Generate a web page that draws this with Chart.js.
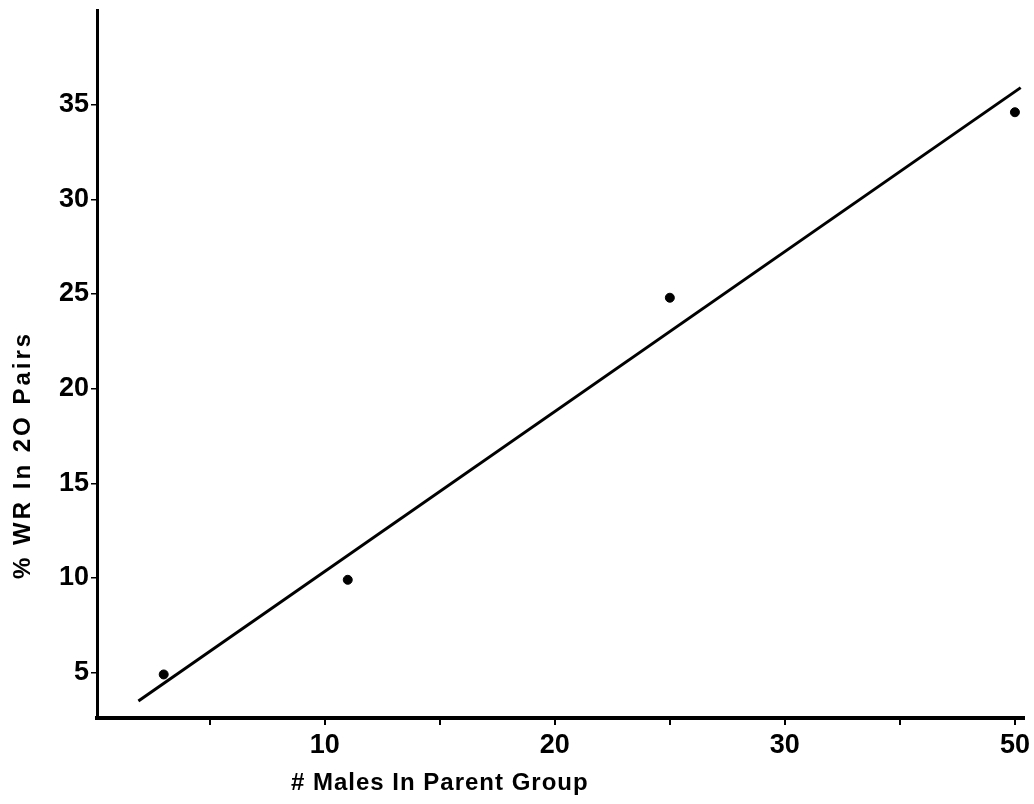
<!DOCTYPE html>
<html>
<head>
<meta charset="utf-8">
<script src="https://cdn.jsdelivr.net/npm/chart.js@4.4.0/dist/chart.umd.min.js"></script>
<style>
  html, body { margin: 0; padding: 0; background: #fff; }
  #wrap { width: 1034px; height: 804px; }
</style>
</head>
<body>
<div id="wrap"><canvas id="plot"></canvas></div>
<script>
// data
const malesInGroup = [3, 11, 25, 40];      // axis position (last tick is labelled 50)
const pctWR = [4.9, 9.9, 24.8, 34.6];
const fitX = [1.9, 40.25];
const fitY = [3.5, 35.9];

const xTickValues = [5, 10, 15, 20, 25, 30, 35, 40];
const xTickLabels = ['', '10', '', '20', '', '30', '', '50'];
const yTickValues = [5, 10, 15, 20, 25, 30, 35];
const yTickLabels = ['5', '10', '15', '20', '25', '30', '35'];

const xTitle = '# Males In Parent Group';
const yTitle = '% WR In 2O Pairs';

const titlesPlugin = {
    id: 'titles',
    afterDraw(chart) {
        const ctx = chart.ctx;
        const xs = chart.scales.x, ys = chart.scales.y;
        ctx.save();
        ctx.fillStyle = '#000';
        ctx.textAlign = 'center';
        ctx.textBaseline = 'middle';
        ctx.letterSpacing = '1px';
        ctx.font = 'bold 24px "Liberation Sans", Arial, sans-serif';
        ctx.fillText(xTitle, xs.getPixelForValue(15), 783);
        ctx.translate(23, ys.getPixelForValue(16.5));
        ctx.rotate(-Math.PI / 2);
        ctx.letterSpacing = '3px';
        ctx.font = 'bold 24px "Liberation Sans", Arial, sans-serif';
        ctx.fillText(yTitle, 0, 0);
        ctx.restore();
    }
};

window.onload = function() {
    const ctx = document.getElementById('plot').getContext('2d');
    new Chart(ctx, {
        type: 'scatter',
        data: {
            datasets: [{
                data: malesInGroup.map((x, i) => ({ x: x, y: pctWR[i] })),
                backgroundColor: '#000',
                borderColor: '#000',
                pointRadius: 4.5,
                pointHoverRadius: 4.5
            }, {
                type: 'line',
                data: fitX.map((x, i) => ({ x: x, y: fitY[i] })),
                borderColor: '#000',
                borderWidth: 3,
                pointRadius: 0,
                fill: false
            }]
        },
        options: {
            responsive: true,
            maintainAspectRatio: false,
            animation: false,
            layout: { padding: 0 },
            plugins: {
                legend: { display: false },
                tooltip: { enabled: false }
            },
            scales: {
                x: {
                    type: 'linear',
                    min: 0.1,
                    max: 40.4,
                    afterBuildTicks: s => { s.ticks = xTickValues.map(v => ({ value: v })); },
                    afterFit: s => { s.height = 86; },
                    border: { color: '#000', width: 4 },
                    grid: { drawOnChartArea: false, color: '#000', lineWidth: 2, tickLength: 7 },
                    ticks: {
                        color: '#000',
                        padding: 4,
                        maxRotation: 0,
                        autoSkip: false,
                        font: { family: '"Liberation Sans", Arial', size: 27, weight: 'bold' },
                        callback: v => xTickLabels[xTickValues.indexOf(v)]
                    }
                },
                y: {
                    type: 'linear',
                    min: 2.6,
                    max: 40,
                    afterBuildTicks: s => { s.ticks = yTickValues.map(v => ({ value: v })); },
                    afterFit: s => { s.width = 97; s.paddingTop = 10; s.paddingBottom = 0; },
                    border: { color: '#000', width: 3 },
                    grid: { drawOnChartArea: false, color: '#000', lineWidth: 1.5, tickLength: 6 },
                    ticks: {
                        color: '#000',
                        padding: 2,
                        autoSkip: false,
                        font: { family: '"Liberation Sans", Arial', size: 27, weight: 'bold' },
                        callback: v => yTickLabels[yTickValues.indexOf(v)]
                    }
                }
            }
        },
        plugins: [titlesPlugin]
    });
};
</script>
</body>
</html>
